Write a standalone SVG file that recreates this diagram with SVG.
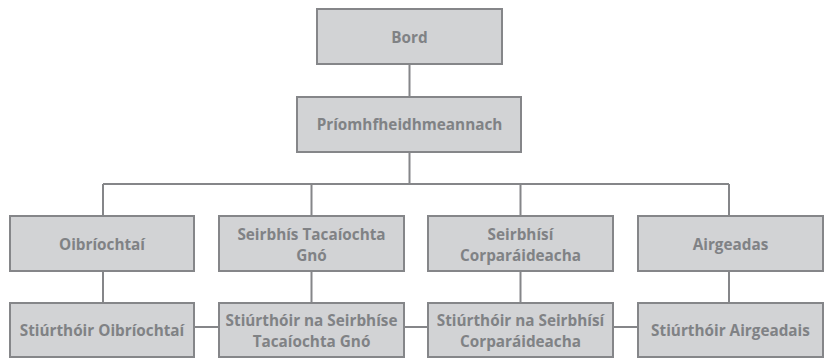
<svg xmlns="http://www.w3.org/2000/svg" width="825" height="358" viewBox="0 0 825 358">
<style>
.box{fill:#d2d3d5;stroke:#858689;stroke-width:2}
.lbl{font-family:"Open Sans","Noto Sans",sans-serif;font-weight:bold;font-size:15.3px;fill:#808285;text-anchor:middle}
.con{stroke:#858689;stroke-width:2;fill:none}
</style>
<rect width="825" height="358" fill="#ffffff"/>
<g id="connectors">
<path class="con" d="M409.5 64V97M409.5 152V184M103 184H729M103 184V216M311.5 184V216M520.5 184V216M729 184V216"/>
<path class="con" d="M103 271V303M311.5 271V303M520.5 271V303M729 271V303"/>
<path class="con" d="M194 327H219M404 327H428M613 327H638"/>
</g>
<g id="bord"><rect class="box" x="317" y="9" width="185" height="55"/><text class="lbl" x="409.5" y="43">Bord</text></g>
<g id="priomh"><rect class="box" x="297" y="97" width="224" height="55"/><text class="lbl" x="409.5" y="130">Príomhfheidhmeannach</text></g>
<g id="oibriochtai"><rect class="box" x="10" y="216" width="184" height="55"/><text class="lbl" x="102" y="250">Oibríochtaí</text></g>
<g id="seirbhis-tacaiochta"><rect class="box" x="219" y="216" width="185" height="55"/><text class="lbl" x="311.5" y="240">Seirbhís Tacaíochta</text><text class="lbl" x="311.5" y="261">Gnó</text></g>
<g id="seirbhisi-corparaideacha"><rect class="box" x="428" y="216" width="185" height="55"/><text class="lbl" x="520.5" y="240">Seirbhísí</text><text class="lbl" x="520.5" y="261">Corparáideacha</text></g>
<g id="airgeadas"><rect class="box" x="638" y="216" width="185" height="55"/><text class="lbl" x="730.5" y="250">Airgeadas</text></g>
<g id="stiurthoir-oibriochtai"><rect class="box" x="10" y="303" width="184" height="54"/><text class="lbl" x="102" y="336">Stiúrthóir Oibríochtaí</text></g>
<g id="stiurthoir-tacaiochta"><rect class="box" x="219" y="303" width="185" height="54"/><text class="lbl" x="311.5" y="326">Stiúrthóir na Seirbhíse</text><text class="lbl" x="311.5" y="347">Tacaíochta Gnó</text></g>
<g id="stiurthoir-corparaideacha"><rect class="box" x="428" y="303" width="185" height="54"/><text class="lbl" x="520.5" y="326">Stiúrthóir na Seirbhísí</text><text class="lbl" x="520.5" y="347">Corparáideacha</text></g>
<g id="stiurthoir-airgeadais"><rect class="box" x="638" y="303" width="185" height="54"/><text class="lbl" x="730.5" y="336">Stiúrthóir Airgeadais</text></g>
</svg>
